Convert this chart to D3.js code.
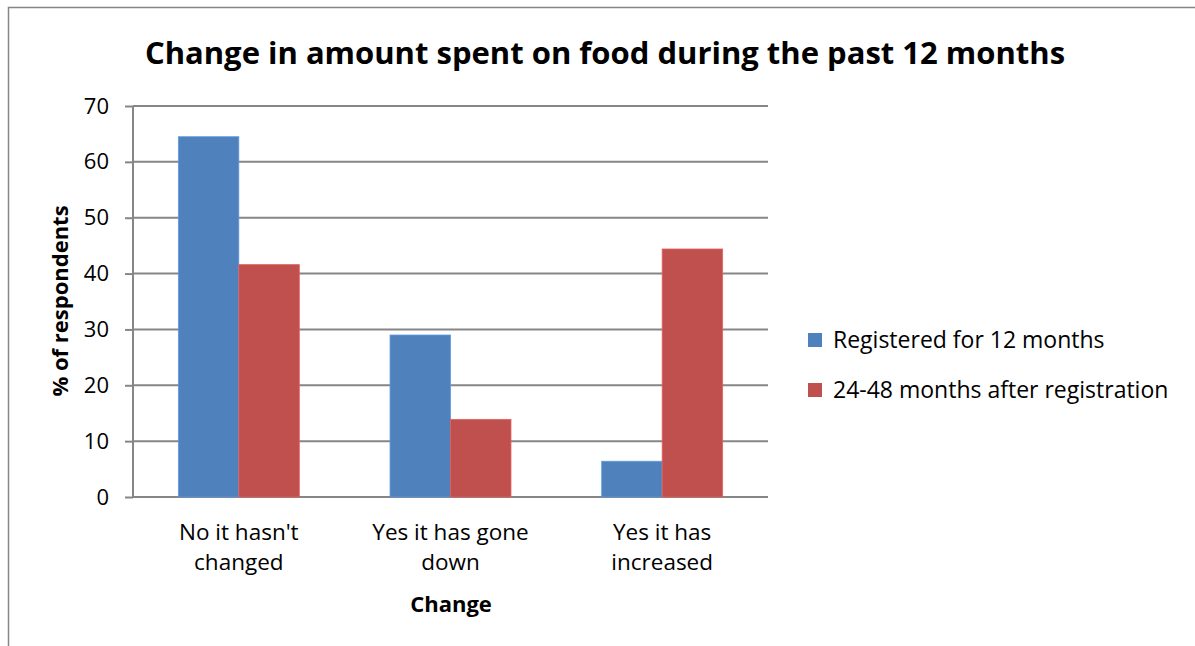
<!DOCTYPE html>
<html>
<head>
<meta charset="utf-8">
<script src="https://cdn.jsdelivr.net/npm/d3@7"></script>
<style>
  body { margin: 0; background: #fff; }
  svg { display: block; font-family: "Open Sans", "Noto Sans", sans-serif; }
</style>
</head>
<body>
<svg width="1195" height="646"></svg>
<script>
// chart data
const categories = [["No it hasn't", "changed"], ["Yes it has gone", "down"], ["Yes it has", "increased"]];
const seriesNames = ["Registered for 12 months", "24-48 months after registration"];
const registered12 = [64.5, 29.0, 6.4];
const after24to48 = [41.6, 13.9, 44.4];
const yTicks = [0, 10, 20, 30, 40, 50, 60, 70];
const colors = ["#4F81BD", "#C0504D"];

const svg = d3.select("svg"),
  margin = { top: 106, right: 427, bottom: 149, left: 133 },
  width = +svg.attr("width"),
  height = +svg.attr("height");

// outer chart frame (cut off at right and bottom like the reference)
svg.append("path")
  .attr("d", "M8.5,660 V7.5 H1210")
  .attr("fill", "none")
  .attr("stroke", "#868686")
  .attr("stroke-width", 1.5);

// scales (Excel gap width 150%)
const x0 = d3.scaleBand()
  .domain(d3.range(categories.length))
  .range([margin.left, width - margin.right])
  .paddingInner(0.4286)
  .paddingOuter(0.2143);

const x1 = d3.scaleBand()
  .domain(d3.range(seriesNames.length))
  .range([0, x0.bandwidth()]);

const y = d3.scaleLinear()
  .domain([0, 70])
  .range([height - margin.bottom, margin.top]);

// y axis ticks
const yAxis = svg.append("g")
  .attr("transform", `translate(${margin.left},0)`)
  .call(d3.axisLeft(y).tickValues(yTicks).tickSize(8).tickPadding(16).tickFormat(d3.format("d")));
yAxis.select(".domain").remove();
yAxis.selectAll(".tick line").attr("stroke", "#868686").attr("stroke-width", 2);
yAxis.selectAll(".tick text").attr("font-size", 22).attr("fill", "#000")
  .attr("font-family", "'Open Sans', sans-serif");

// gridlines
svg.append("g")
  .selectAll("line")
  .data(yTicks)
  .join("line")
  .attr("x1", margin.left)
  .attr("x2", width - margin.right)
  .attr("y1", (d) => y(d))
  .attr("y2", (d) => y(d))
  .attr("stroke", "#868686")
  .attr("stroke-width", 2);

// bars
const values = [registered12, after24to48];
const groups = svg.append("g")
  .selectAll("g")
  .data(categories.map((c, i) => i))
  .join("g")
  .attr("transform", (i) => `translate(${x0(i)},0)`);

groups.selectAll("rect")
  .data((i) => values.map((s, j) => ({ j, v: s[i] })))
  .join("rect")
  .attr("x", (d) => x1(d.j))
  .attr("y", (d) => y(d.v))
  .attr("width", x1.bandwidth())
  .attr("height", (d) => y(0) - y(d.v))
  .attr("fill", (d) => colors[d.j])
  .attr("stroke", (d) => d3.color(colors[d.j]).brighter(0.5))
  .attr("stroke-width", 0.8);

// left axis line
svg.append("line")
  .attr("x1", margin.left).attr("x2", margin.left)
  .attr("y1", y(70)).attr("y2", y(0))
  .attr("stroke", "#868686").attr("stroke-width", 2);

// category labels
const catLabels = svg.append("g")
  .selectAll("text")
  .data(categories)
  .join("text")
  .attr("text-anchor", "middle")
  .attr("font-size", 22.5)
  .attr("x", (d, i) => x0(i) + x0.bandwidth() / 2);
catLabels.selectAll("tspan")
  .data((d) => d)
  .join("tspan")
  .attr("x", function () { return this.parentNode.getAttribute("x"); })
  .attr("y", (d, k) => 540 + k * 30)
  .text((d) => d);

// title
svg.append("text")
  .attr("x", 605)
  .attr("y", 64)
  .attr("text-anchor", "middle")
  .attr("font-size", 31)
  .attr("font-weight", "bold")
  .text("Change in amount spent on food during the past 12 months");

// axis titles
svg.append("text")
  .attr("x", 451)
  .attr("y", 612)
  .attr("text-anchor", "middle")
  .attr("font-size", 22)
  .attr("font-weight", "bold")
  .text("Change");

svg.append("text")
  .attr("transform", "translate(68,301) rotate(-90)")
  .attr("text-anchor", "middle")
  .attr("font-size", 22)
  .attr("font-weight", "bold")
  .text("% of respondents");

// legend
const legend = svg.append("g")
  .selectAll("g")
  .data(seriesNames)
  .join("g")
  .attr("transform", (d, i) => `translate(808,${333 + i * 50})`);
legend.append("rect")
  .attr("width", 14).attr("height", 14)
  .attr("fill", (d, i) => colors[i]);
legend.append("text")
  .attr("x", 25)
  .attr("y", 15)
  .attr("font-size", 23)
  .text((d) => d);
</script>
</body>
</html>
